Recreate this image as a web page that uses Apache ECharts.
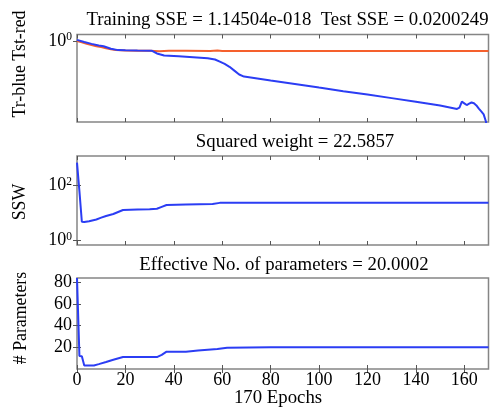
<!DOCTYPE html>
<html>
<head>
<meta charset="utf-8">
<script src="https://cdn.jsdelivr.net/npm/echarts@6/dist/echarts.min.js"></script>
<style>
  html, body { margin: 0; padding: 0; background: #fff; }
  #chart { width: 490px; height: 409px; }
</style>
</head>
<body>
<div id="chart"></div>
<script>
// ---- epoch axis ----
const maxEpoch = 170;
const epochTicks = [0, 20, 40, 60, 80, 100, 120, 140, 160];

// ---- training (blue) and test (red) error ----
const trainEpochs = [0, 3, 6, 9, 11, 14, 17, 20, 25, 31, 33, 36, 42, 48, 54, 57, 59, 61, 63, 65, 67, 69,
  80, 90, 100, 110, 120, 130, 140, 150, 157, 158, 159, 160, 161, 162, 163, 164, 165, 166, 167, 168, 169, 170];
const trainSSE = [1.03, 0.97, 0.92, 0.88, 0.86, 0.80, 0.77, 0.765, 0.76, 0.755, 0.70, 0.66, 0.645, 0.63, 0.61, 0.59, 0.555, 0.52, 0.48, 0.43, 0.385, 0.363,
  0.325, 0.295, 0.266, 0.24, 0.218, 0.197, 0.178, 0.16, 0.145, 0.15, 0.178, 0.17, 0.162, 0.168, 0.174, 0.17, 0.16, 0.146, 0.135, 0.124, 0.1, 1.14504e-18];
const testEpochs = [0, 2, 4, 6, 8, 10, 12, 14, 16, 20, 25, 30, 34, 38, 45, 55, 58, 60, 80, 120, 170];
const testSSE = [1.0, 0.96, 0.92, 0.89, 0.86, 0.84, 0.81, 0.79, 0.77, 0.76, 0.755, 0.755, 0.745, 0.755, 0.755, 0.752, 0.76, 0.753, 0.753, 0.753, 0.753];
const sseTicks = [1];

// ---- sum of squared weights ----
const sswEpochs = [0, 1, 2, 3, 5, 8, 10, 12, 15, 19, 25, 30, 33, 35, 37, 45, 56, 59, 80, 170];
const sswValues = [650, 60, 4.6, 4.5, 4.8, 5.6, 6.5, 7.5, 8.8, 12.3, 12.8, 13.2, 13.7, 16, 18.7, 19.5, 20.4, 22.4, 22.5, 22.5857];
const sswTicks = [1, 100];

// ---- effective number of parameters ----
const paramEpochs = [0, 1, 2, 3, 7, 9, 12, 15, 19, 25, 33, 35, 37, 45, 50, 58, 62, 80, 170];
const paramValues = [84, 12, 11.8, 3.3, 3.3, 4.5, 6.4, 8.5, 11, 11, 11, 13, 16, 16, 17, 18.5, 19.6, 20, 20.0002];
const paramTicks = [20, 40, 60, 80];

const FONT = '"Liberation Serif", "Times New Roman", serif';
const BLUE = '#2b3df4';
const RED = '#f5602d';
const BOX = '#858585';
const TICK = '#555';

const grids = [
  { left: 77, top: 34.5, width: 411.5, height: 87.5 },
  { left: 77, top: 156, width: 411.5, height: 89 },
  { left: 77, top: 278, width: 411.5, height: 91 }
].map(g => Object.assign({ show: true, borderColor: BOX, borderWidth: 1.5, backgroundColor: '#fff' }, g));

function pairs(xs, ys) { return xs.map((x, i) => [x, ys[i]]); }

function powLabel(v) {
  const e = Math.round(Math.log10(v));
  return '{b|10}{s|' + e + '}';
}
const powRich = {
  b: { fontSize: 18, fontFamily: FONT, color: '#000', lineHeight: 19 },
  s: { fontSize: 11.5, fontFamily: FONT, color: '#000', verticalAlign: 'top', lineHeight: 12 }
};

const xAxes = [];
[0, 1, 2].forEach(i => {
  // bottom axis
  xAxes.push({
    type: 'value', gridIndex: i, min: 0, max: maxEpoch, position: 'bottom',
    axisLine: { show: false }, splitLine: { show: false },
    axisTick: { show: true, inside: true, length: 4, customValues: epochTicks, lineStyle: { color: TICK } },
    axisLabel: { show: i === 2, customValues: epochTicks, margin: 2, fontSize: 18, fontFamily: FONT, color: '#000' }
  });
});
[0, 1, 2].forEach(i => {
  // top axis, ticks only
  xAxes.push({
    type: 'value', gridIndex: i, min: 0, max: maxEpoch, position: 'top',
    axisLine: { show: false }, splitLine: { show: false },
    axisTick: { show: true, inside: true, length: 4, customValues: epochTicks, lineStyle: { color: TICK } },
    axisLabel: { show: false }
  });
});

const yDefs = [
  { type: 'log', logBase: 10, min: 0.1, max: 1.2, ticks: sseTicks, fmt: powLabel, rich: powRich },
  { type: 'log', logBase: 10, min: 0.66, max: 1130, ticks: sswTicks, fmt: powLabel, rich: powRich },
  { type: 'value', min: 0, max: 84, ticks: paramTicks, fmt: null, rich: null }
];
const yAxes = [];
yDefs.forEach((d, i) => {
  const lab = { show: true, customValues: d.ticks, margin: 5, fontSize: 18, fontFamily: FONT, color: '#000' };
  if (d.fmt) { lab.formatter = d.fmt; lab.rich = d.rich; }
  const ax = {
    type: d.type, gridIndex: i, min: d.min, max: d.max, position: 'left',
    axisLine: { show: false }, splitLine: { show: false }, minorTick: { show: false },
    axisTick: { show: true, inside: true, length: 4, customValues: d.ticks, lineStyle: { color: TICK } },
    axisLabel: lab
  };
  if (d.type === 'log') ax.logBase = d.logBase;
  yAxes.push(ax);
});
yDefs.forEach((d, i) => {
  const ax = {
    type: d.type, gridIndex: i, min: d.min, max: d.max, position: 'right',
    axisLine: { show: false }, splitLine: { show: false },
    axisTick: { show: true, inside: true, length: 4, customValues: d.ticks, lineStyle: { color: TICK } },
    axisLabel: { show: false }
  };
  if (d.type === 'log') ax.logBase = d.logBase;
  yAxes.push(ax);
});

function lineSeries(xi, yi, data, color, z) {
  return {
    type: 'line', xAxisIndex: xi, yAxisIndex: yi, data: data,
    showSymbol: false, symbol: 'none', clip: true, animation: false, z: z,
    lineStyle: { color: color, width: 2 }
  };
}

function text(str, x, y, size, rot) {
  return {
    type: 'text', x: x, y: y, rotation: rot || 0, z: 100,
    style: { text: str, fill: '#000', font: size + 'px ' + FONT, align: 'center', verticalAlign: 'middle' }
  };
}

const option = {
  animation: false,
  backgroundColor: '#fff',
  grid: grids,
  xAxis: xAxes,
  yAxis: yAxes,
  series: [
    lineSeries(0, 0, pairs(testEpochs, testSSE), RED, 3),
    lineSeries(0, 0, pairs(trainEpochs, trainSSE), BLUE, 4),
    lineSeries(1, 1, pairs(sswEpochs, sswValues), BLUE, 4),
    lineSeries(2, 2, pairs(paramEpochs, paramValues), BLUE, 4)
  ],
  graphic: [
    text('Training SSE = 1.14504e-018  Test SSE = 0.0200249', 287.5, 20, 18.8),
    text('Squared weight = 22.5857', 295, 142, 18.8),
    text('Effective No. of parameters = 20.0002', 284, 265, 18.8),
    text('Tr-blue Tst-red', 20, 64, 17.8, Math.PI / 2),
    text('SSW', 20, 202, 17.8, Math.PI / 2),
    text('# Parameters', 21, 318, 17.8, Math.PI / 2),
    text('170 Epochs', 278, 398, 18.8)
  ]
};

const chart = echarts.init(document.getElementById('chart'), null, { renderer: 'canvas' });
chart.setOption(option);
</script>
</body>
</html>
